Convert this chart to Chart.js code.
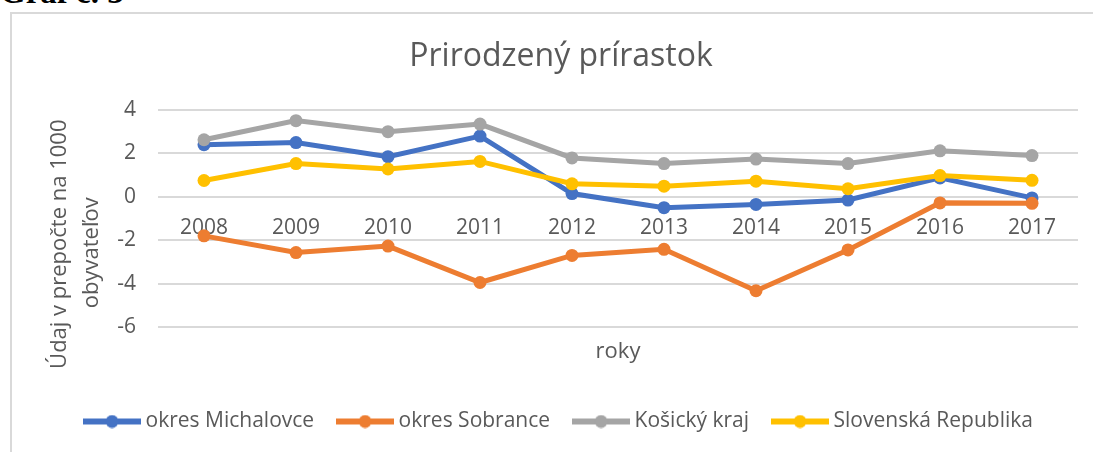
<!DOCTYPE html>
<html>
<head>
<meta charset="utf-8">
<script src="https://cdn.jsdelivr.net/npm/chart.js@4.4.0/dist/chart.umd.min.js"></script>
<style>
    html, body { margin: 0; padding: 0; background: #fff; overflow: hidden; }
    #caption { position: absolute; left: 0; top: -24px; font: bold 33px/1 "Liberation Serif", serif; color: #000; white-space: nowrap; }
    #frame { position: absolute; left: 10px; top: 12px; width: 1100px; height: 460px; border: 2px solid #d9d9d9; box-sizing: border-box; }
    #wrap { position: absolute; left: 12px; top: 14px; width: 1081px; height: 438px; }
</style>
</head>
<body>
<div id="caption">Graf č. 3</div>
<div id="frame"></div>
<div id="wrap"><canvas id="chart"></canvas></div>
<script>
// data
const years = ["2008", "2009", "2010", "2011", "2012", "2013", "2014", "2015", "2016", "2017"];
const michalovce = [2.4, 2.5, 1.85, 2.8, 0.15, -0.5, -0.35, -0.15, 0.87, -0.05];
const sobrance = [-1.8, -2.57, -2.27, -3.95, -2.7, -2.42, -4.33, -2.45, -0.28, -0.3];
const kosickyKraj = [2.63, 3.51, 3.0, 3.35, 1.79, 1.53, 1.74, 1.53, 2.12, 1.9];
const slovensko = [0.75, 1.53, 1.28, 1.63, 0.6, 0.49, 0.72, 0.37, 0.98, 0.76];
const seriesNames = ["okres Michalovce", "okres Sobrance", "Košický kraj", "Slovenská Republika"];
// trailing spaces push the rotated title a bit lower, as Excel placed it
const yTitle = ["Údaj v prepočte na 1000" + " ".repeat(9), "obyvateľov" + " ".repeat(12)];

const COLORS = ["#4472c4", "#ed7d31", "#a5a5a5", "#ffc000"];
const TEXT = "#595959";
const GRID = "#d9d9d9";
const FONT = "'Open Sans', sans-serif";

// small line + dot sample used in the legend
const makeMarker = (color) => {
    const cv = document.createElement("canvas");
    cv.width = 58;
    cv.height = 14;
    const g = cv.getContext("2d");
    g.strokeStyle = color;
    g.lineWidth = 6;
    g.beginPath();
    g.moveTo(0, 7);
    g.lineTo(58, 7);
    g.stroke();
    g.fillStyle = color;
    g.beginPath();
    g.arc(29, 7, 6.5, 0, Math.PI * 2);
    g.fill();
    return cv;
};

const makeDataset = (i, values) => ({
    label: seriesNames[i],
    data: values,
    borderColor: COLORS[i],
    backgroundColor: COLORS[i],
    borderWidth: 5,
    pointRadius: 6.5,
    pointBorderWidth: 0,
    pointBackgroundColor: COLORS[i],
    tension: 0,
    fill: false,
    order: 4 - i, // later series on top, like Excel
});

const datasets = [
    makeDataset(0, michalovce),
    makeDataset(1, sobrance),
    makeDataset(2, kosickyKraj),
    makeDataset(3, slovensko),
];

new Chart(document.getElementById("chart"), {
    type: "line",
    data: { labels: years, datasets },
    options: {
        responsive: true,
        maintainAspectRatio: false,
        animation: false,
        layout: { padding: { left: 32, right: 15, top: 0, bottom: 10 } },
        scales: {
            x: {
                type: "category",
                position: { y: 0 },
                offset: true,
                grid: { display: false, drawTicks: false },
                border: { display: false },
                ticks: { color: TEXT, font: { family: FONT, size: 21 }, padding: 19, maxRotation: 0, autoSkip: false },
            },
            x2: {
                type: "category",
                position: "bottom",
                labels: years,
                offset: true,
                grid: { display: false, drawTicks: false },
                border: { display: false },
                ticks: { display: false },
                title: { display: true, text: "roky", color: TEXT, font: { family: FONT, size: 22 }, padding: { top: 11.8, bottom: 17.8 } },
            },
            y: {
                min: -6,
                max: 4,
                ticks: { stepSize: 2, color: TEXT, font: { family: FONT, size: 21 }, padding: 22 },
                grid: { color: GRID, lineWidth: 2, drawTicks: false },
                border: { display: false },
                title: {
                    display: true,
                    text: yTitle,
                    color: TEXT,
                    font: { family: FONT, size: 22, lineHeight: 32 / 22 },
                    padding: { top: 0, bottom: 0 },
                },
                afterFit: (scale) => { scale.width = 114; },
            },
        },
        plugins: {
            title: {
                display: true,
                text: "Prirodzený prírastok",
                color: TEXT,
                font: { family: FONT, size: 32, weight: "normal" },
                padding: { top: 24, bottom: 33.6 },
            },
            legend: {
                position: "bottom",
                labels: {
                    usePointStyle: true,
                    pointStyleWidth: 46,
                    padding: 28,
                    color: TEXT,
                    font: { family: FONT, size: 21 },
                    generateLabels: (chart) =>
                        chart.data.datasets.map((ds, i) => ({
                            text: ds.label,
                            fillStyle: COLORS[i],
                            strokeStyle: COLORS[i],
                            fontColor: TEXT,
                            lineWidth: 0,
                            pointStyle: makeMarker(COLORS[i]),
                            hidden: !chart.isDatasetVisible(i),
                            datasetIndex: i,
                        })),
                },
            },
            tooltip: { enabled: false },
        },
    },
});
</script>
</body>
</html>
